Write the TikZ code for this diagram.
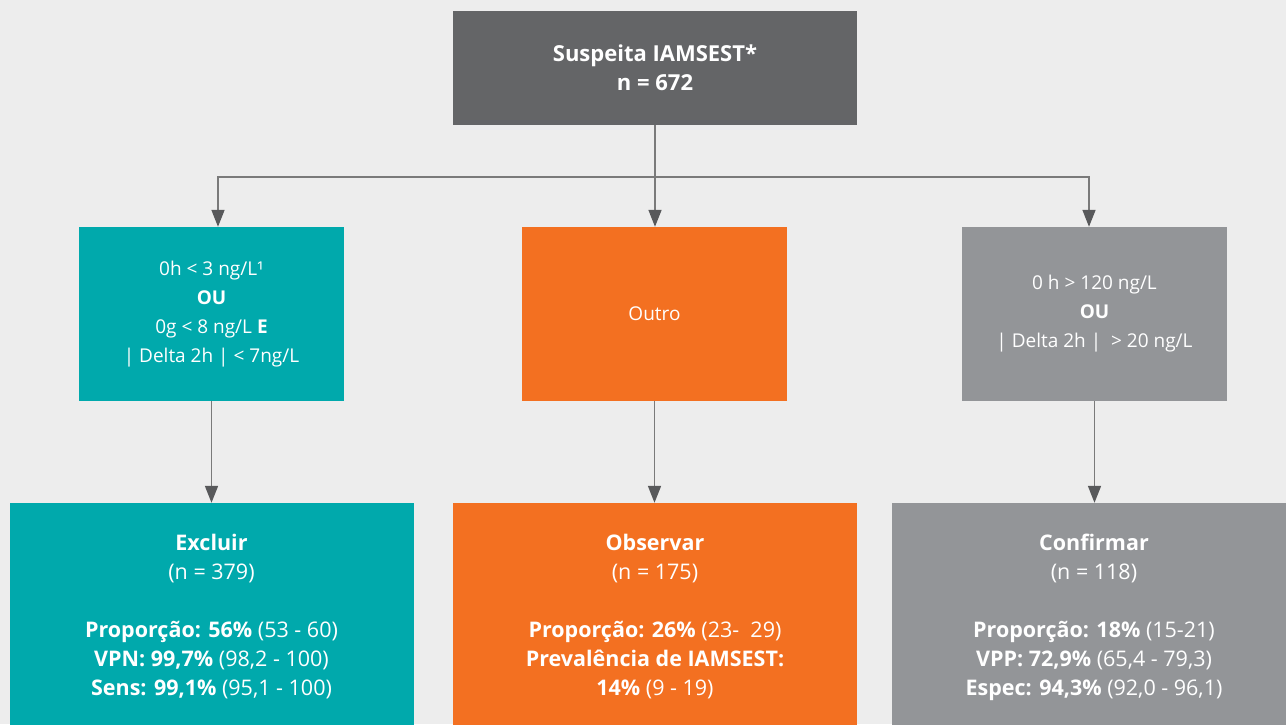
\documentclass[tikz,border=0pt]{standalone}
\usepackage{fontspec}
\setmainfont{Open Sans}
\usetikzlibrary{arrows.meta}
\definecolor{bgcol}{HTML}{EDEDED}
\definecolor{topgrey}{HTML}{646567}
\definecolor{tealbox}{HTML}{00A9AC}
\definecolor{orangebox}{HTML}{F37021}
\definecolor{greybox}{HTML}{939598}
\definecolor{linegrey}{HTML}{7A7A7A}
\definecolor{tipgrey}{HTML}{58595B}
\begin{document}
\begin{tikzpicture}[x=1pt,y=-1pt,
  box/.style={rectangle, inner sep=0pt, text=white, align=center},
  topbox/.style={box, fill=topgrey, minimum width=404pt, minimum height=114pt,
    font=\fontsize{22}{29}\selectfont\bfseries},
  midbox/.style={box, minimum width=265pt, minimum height=174pt,
    font=\fontsize{19}{29}\selectfont},
  botbox/.style={box, minimum width=404pt, minimum height=228pt,
    font=\fontsize{21.5}{29}\selectfont},
  conn/.style={draw=linegrey, line width=1.6pt},
  arr/.style={conn, -{Triangle[width=13pt,length=17pt,fill=tipgrey,color=tipgrey]}}
]
\useasboundingbox (0,0) rectangle (1286,724);
\clip (0,0) rectangle (1286,724);
\fill[bgcol] (0,0) rectangle (1286,724);

\node[topbox] (top) at (655,68) {Suspeita IAMSEST*\\n = 672};

\node[midbox, fill=tealbox] (left) at (211.5,314) {0h < 3 ng/L¹\\\textbf{OU}\\0g < 8 ng/L \textbf{E}\\| Delta 2h | < 7ng/L};
\node[midbox, fill=orangebox] (mid) at (654.5,314) {Outro};
\node[midbox, fill=greybox] (right) at (1094.5,314) {0 h > 120 ng/L\\\textbf{OU}\\| Delta 2h |\ \ > 20 ng/L};

\node[botbox, fill=tealbox] (bleft) at (211.5,617) {\textbf{Excluir}\\(n = 379)\\[29pt]\textbf{Proporção: 56\%} (53 - 60)\\\textbf{VPN: 99,7\%} (98,2 - 100)\\\textbf{Sens: 99,1\%} (95,1 - 100)};
\node[botbox, fill=orangebox] (bmid) at (655,617) {\textbf{Observar}\\(n = 175)\\[29pt]\textbf{Proporção: 26\%} (23-\ \ 29)\\\textbf{Prevalência de IAMSEST:}\\\textbf{14\%} (9 - 19)};
\node[botbox, fill=greybox] (bright) at (1094,617) {\textbf{Confirmar}\\(n = 118)\\[29pt]\textbf{Proporção: 18\%} (15-21)\\\textbf{VPP: 72,9\%} (65,4 - 79,3)\\\textbf{Espec: 94,3\%} (92,0 - 96,1)};

\coordinate (split) at (655,177);
\coordinate (hl) at (218,177);
\coordinate (hr) at (1089,177);

\draw[conn] (top.south) -- (split);
\draw[arr] (split) -| (hl |- left.north);
\draw[arr] (split) -| (hr |- right.north);
\draw[arr] (split) -- (split |- mid.north);
\draw[arr] (left.south) -- (bleft.north);
\draw[arr] (mid.south) -- (mid.south |- bmid.north);
\draw[arr] (right.south) -- (right.south |- bright.north);
\end{tikzpicture}
\end{document}
